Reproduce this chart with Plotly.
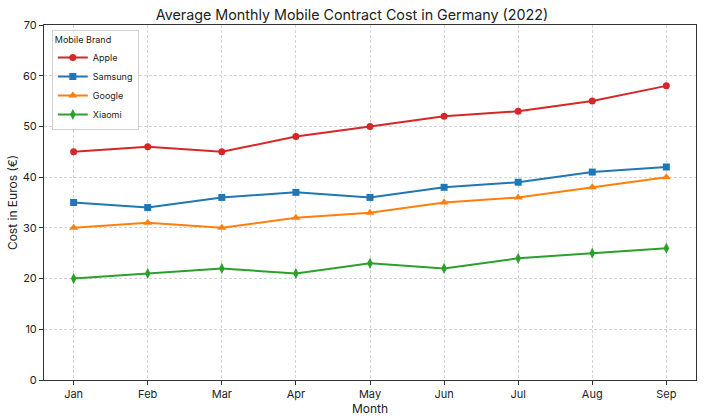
import plotly.graph_objects as go

months = ["Jan", "Feb", "Mar", "Apr", "May", "Jun", "Jul", "Aug", "Sep"]
apple = [45, 46, 45, 48, 50, 52, 53, 55, 58]
samsung = [35, 34, 36, 37, 36, 38, 39, 41, 42]
google = [30, 31, 30, 32, 33, 35, 36, 38, 40]
xiaomi = [20, 21, 22, 21, 23, 22, 24, 25, 26]

series = [
    ("Apple", apple, "#d62728", "circle", 7),
    ("Samsung", samsung, "#1f77b4", "square", 7),
    ("Google", google, "#ff7f0e", "triangle-up", 8),
    ("Xiaomi", xiaomi, "#2ca02c", "diamond-tall", 8),
]

fig = go.Figure()
for name, vals, color, sym, size in series:
    fig.add_trace(go.Scatter(
        x=months, y=vals, name=name, mode="lines+markers",
        line=dict(color=color, width=2),
        marker=dict(symbol=sym, size=size, color=color),
    ))

axis_common = dict(
    showline=True, linecolor="#333", linewidth=1, mirror=True,
    ticks="outside", ticklen=4, tickcolor="#333",
    showgrid=True, gridcolor="#d4d4d4", griddash="3px,2px", gridwidth=1,
    zeroline=False, tickfont=dict(size=11, color="#222"), automargin=False,
)

fig.update_layout(
    width=704, height=416,
    font=dict(family="Inter, Roboto, sans-serif", color="#222"),
    title=dict(text="Average Monthly Mobile Contract Cost in Germany (2022)",
               x=0.5, xanchor="center", y=1 - 15 / 416, yanchor="middle",
               font=dict(size=14.3)),
    margin=dict(l=44, r=8, t=25, b=36),
    plot_bgcolor="white", paper_bgcolor="white",
    legend=dict(
        title=dict(text="Mobile Brand", font=dict(size=9)),
        x=0.012, y=0.985, xanchor="left", yanchor="top",
        bordercolor="#d0d0d0", borderwidth=1, bgcolor="rgba(255,255,255,0.9)",
        font=dict(size=9), itemwidth=30,
    ),
)
fig.update_xaxes(axis_common, range=[-0.4, 8.4],
                 title=dict(text="Month", font=dict(size=12), standoff=2))
fig.update_yaxes(axis_common, range=[0, 70], dtick=10,
                 title=dict(text="Cost in Euros (€)", font=dict(size=12), standoff=2))

# page body has a default 8px margin; drop it so the figure sits at 0,0
fig.write_html("out.html", config={"displayModeBar": False},
               post_script="document.body.style.margin='0';")
